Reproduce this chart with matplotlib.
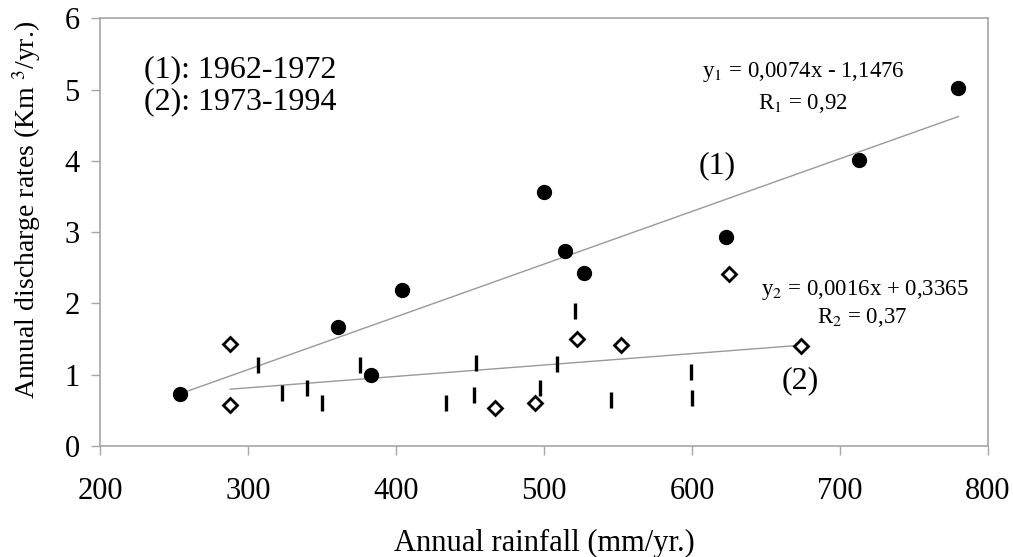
import matplotlib
matplotlib.use("Agg")
import matplotlib.pyplot as plt
import numpy as np

plt.rcParams['font.family'] = ['Liberation Serif', 'DejaVu Serif']
plt.rcParams['mathtext.fontset'] = 'stix'

# Period 1 (1962-1972): filled circles
x1 = [254, 361, 383, 404, 500, 514, 527, 623, 713, 780]
y1 = [0.73, 1.67, 1.00, 2.19, 3.57, 2.73, 2.43, 2.93, 4.01, 5.02]

# Period 2 (1973-1994): open diamonds
x2d = [288, 288, 467, 494, 522, 552, 625, 674]
y2d = [1.43, 0.58, 0.54, 0.61, 1.50, 1.42, 2.42, 1.40]

# Period 2 (1973-1994): dash markers
x2v = [307, 323, 340, 350, 376, 434, 453, 454, 497, 509, 521, 545, 599, 600]
y2v = [1.14, 0.74, 0.81, 0.61, 1.13, 0.61, 0.71, 1.17, 0.81, 1.15, 1.89, 0.65, 1.04, 0.68]

# Trend lines
slope1, icpt1, xr1 = 0.0074, -1.1476, [254, 780]
slope2, icpt2, xr2 = 0.0016, 0.3365, [288, 674]

xticks = [200, 300, 400, 500, 600, 700, 800]
yticks = [0, 1, 2, 3, 4, 5, 6]

fig = plt.figure(figsize=(10.13, 5.57), dpi=100)
ax = fig.add_axes([0.0987, 0.1993, 0.9753 - 0.0987, 0.9668 - 0.1993])

gray = '#a6a6a6'
xa = np.array(xr1)
ax.plot(xa, slope1 * xa + icpt1, color='#999999', lw=1.0, zorder=1)
xb = np.array(xr2)
ax.plot(xb, slope2 * xb + icpt2, color='#999999', lw=1.0, zorder=1)

ax.plot(x1, y1, 'o', color='black', ms=10, zorder=3, linestyle='none')
ax.plot(x2d, y2d, 'D', mfc='white', mec='black', mew=2.0, ms=7, zorder=3, linestyle='none')
ax.plot(x2v, y2v, '|', color='black', mew=2.4, ms=11, zorder=3, linestyle='none')

ax.set_xlim(200, 800)
ax.set_ylim(0, 6)
ax.set_xticks(xticks)
ax.set_yticks(yticks)
ax.tick_params(axis='both', direction='out', length=6.5, width=1.0, color=gray,
               labelsize=22)
ax.tick_params(axis='x', pad=16)
ax.tick_params(axis='y', pad=8)
for s in ax.spines.values():
    s.set_color(gray)
    s.set_linewidth(1.2)

ax.set_xlabel('Annual rainfall (mm/yr.)', fontsize=22, labelpad=16)
ax.set_ylabel(r'Annual discharge rates (Km $^{3}$/yr.)', fontsize=20)
ax.yaxis.set_label_coords(-0.064, 0.552)

ax.text(0.05, 0.88, '(1): 1962-1972', transform=ax.transAxes, fontsize=23, va='center', ha='left')
ax.text(0.05, 0.805, '(2): 1973-1994', transform=ax.transAxes, fontsize=23, va='center', ha='left')

ax.text(675, 5.25, r'y$_1$ = 0,0074x - 1,1476', fontsize=16.5, ha='center', va='center')
ax.text(675, 4.80, r'R$_1$ = 0,92', fontsize=16.5, ha='center', va='center')
ax.text(717, 2.19, r'y$_2$ = 0,0016x + 0,3365', fontsize=16.5, ha='center', va='center')
ax.text(715, 1.80, r'R$_2$ = 0,37', fontsize=16.5, ha='center', va='center')

ax.text(617, 3.94, '(1)', fontsize=23, ha='center', va='center')
ax.text(673, 0.91, '(2)', fontsize=23, ha='center', va='center')

fig.savefig('out.png', dpi=100)
